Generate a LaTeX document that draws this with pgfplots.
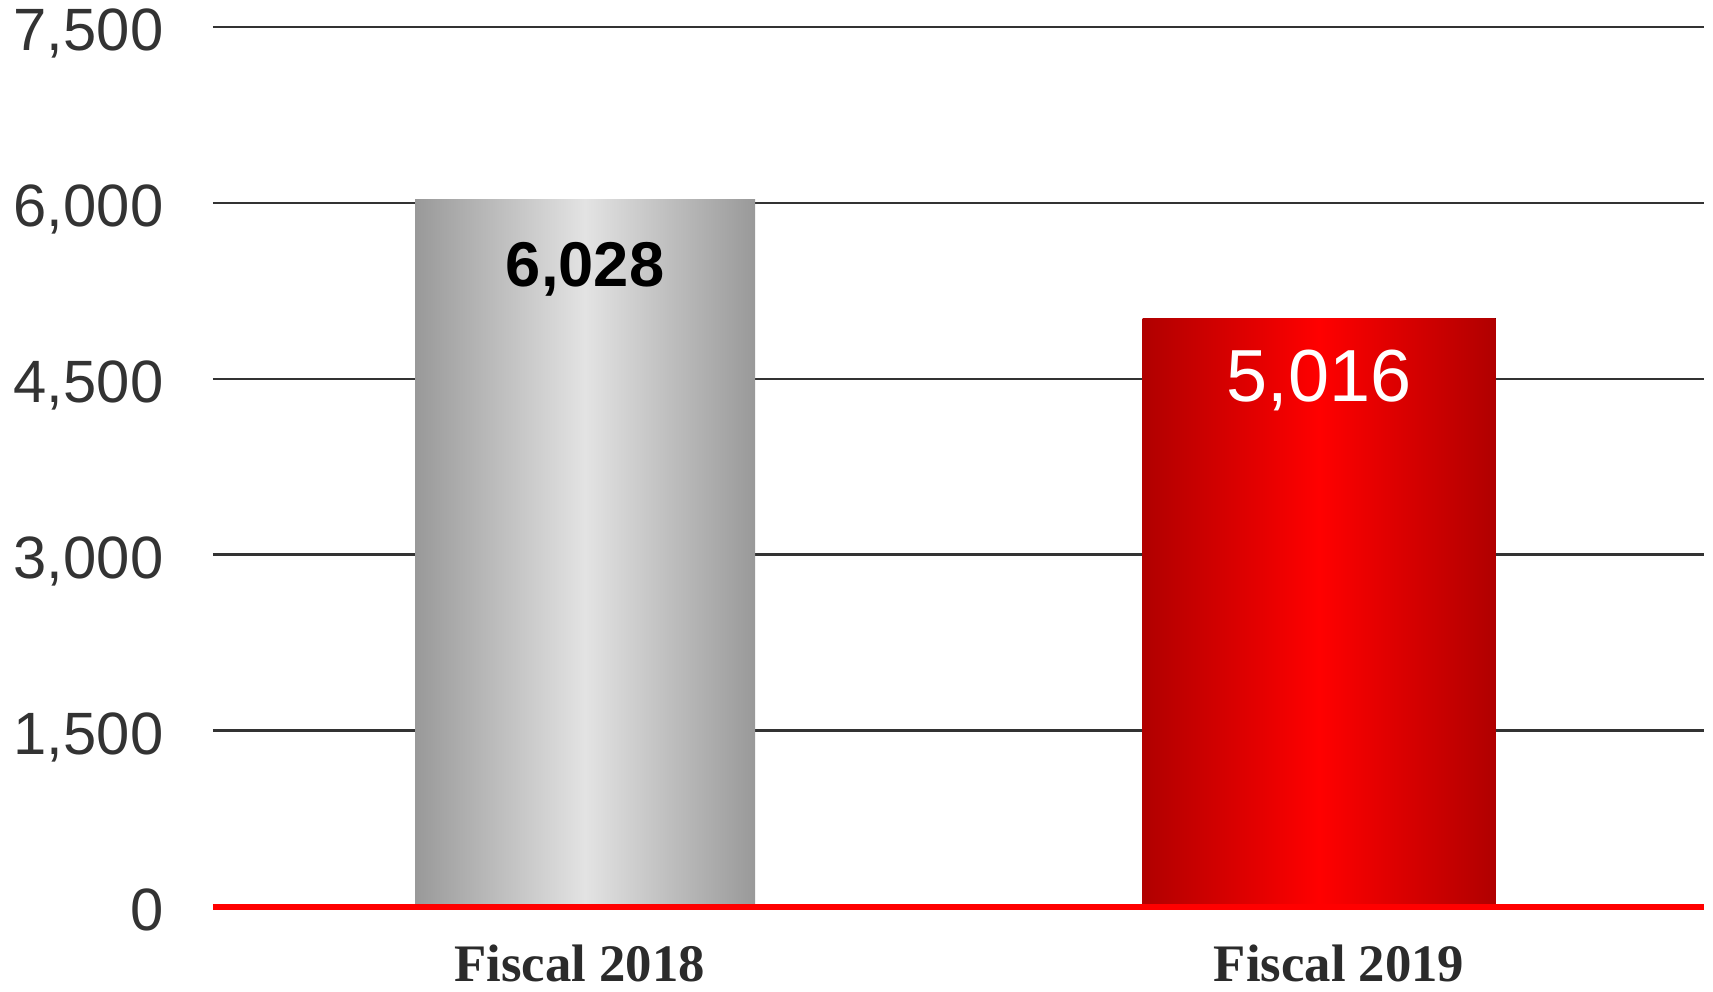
\documentclass[border=0pt]{standalone}
\usepackage{fontspec}
\setmainfont{Liberation Sans}
\newfontfamily\labelserif{Liberation Serif}
\usepackage{pgfplots}
\pgfplotsset{compat=1.18}

\definecolor{gridgray}{HTML}{333333}
\definecolor{labelgray}{HTML}{2B2B2B}
\definecolor{grayedge}{HTML}{999999}
\definecolor{graymid}{HTML}{E3E3E3}
\definecolor{rededge}{HTML}{B00000}
\definecolor{redmid}{HTML}{FF0000}

\begin{document}
\begin{tikzpicture}
\begin{axis}[
    name=ax,
    scale only axis,
    width=149.1mm, height=88mm,
    xmin=-0.507, xmax=1.5245,
    ymin=0, ymax=7500,
    clip=false,
    axis line style={draw=none},
    ytick={0,1500,3000,4500,6000,7500},
    ymajorgrids,
    major grid style={gridgray, line width=0.85pt},
    major tick length=0pt,
    xtick={0,1},
    xticklabels={{Fiscal 2018\hspace*{1.1mm}}, {\hspace*{4mm}Fiscal 2019}},
    yticklabel style={font=\fontsize{17}{17}\selectfont, text=gridgray,
        anchor=east, inner sep=0pt, text depth=0pt, xshift=-4.9mm, yshift=-0.3mm},
    xticklabel style={font=\labelserif\bfseries\fontsize{15}{15}\selectfont,
        text=labelgray, anchor=north, inner sep=0pt, yshift=-3.7mm},
    /pgf/number format/assume math mode=true,
    /pgf/number format/1000 sep={,},
    ybar, bar shift=0pt,
]

% Fiscal 2018
\addplot[fill, draw=none, left color=grayedge, right color=grayedge, middle color=graymid,
    bar width=34mm, nodes near coords,
    every node near coord/.append style={anchor=center, yshift=-7.0mm,
        font=\bfseries\fontsize{18}{18}\selectfont, text=black}]
    coordinates {(0,6028)};

% Fiscal 2019
\addplot[fill, draw=none, left color=rededge, right color=rededge, middle color=redmid,
    bar width=35.3mm, nodes near coords,
    every node near coord/.append style={anchor=center, yshift=-6.2mm,
        font=\fontsize{21}{21}\selectfont, text=white}]
    coordinates {(1,5016)};

% red baseline on top of the bars
\draw[red, line width=1.6pt] (axis cs:-0.507,0) -- (axis cs:1.5245,0);
\end{axis}
\pgfresetboundingbox
\path[use as bounding box] ([shift={(-21.3mm,-8.5mm)}]ax.south west)
    rectangle ([shift={(0.9mm,2.7mm)}]ax.north east);
\end{tikzpicture}
\end{document}
